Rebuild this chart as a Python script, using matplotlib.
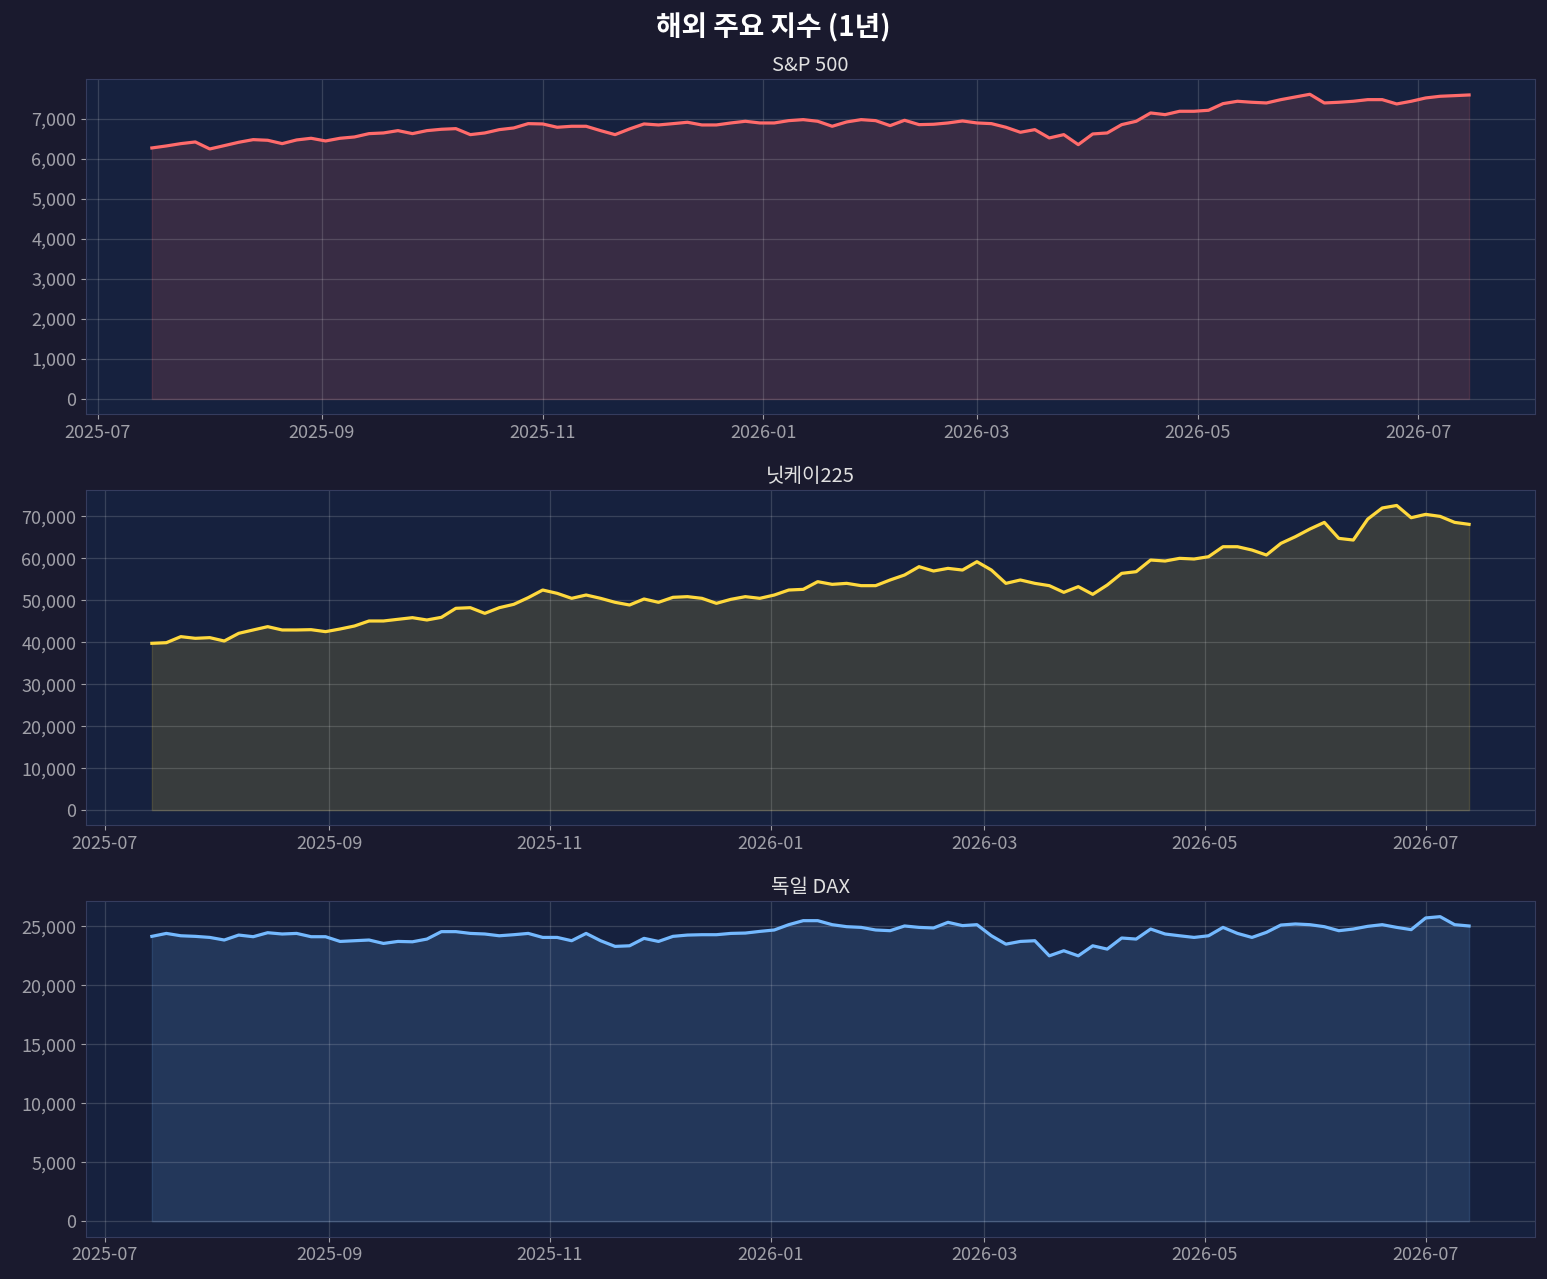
import pandas as pd
import matplotlib
matplotlib.use('Agg')
import matplotlib.pyplot as plt
import matplotlib.dates as mdates
from matplotlib.ticker import FuncFormatter

plt.rcParams['font.family'] = ['Noto Sans CJK KR', 'DejaVu Sans']

BG = '#1a1a2e'
AX_BG = '#16213e'

# values, one every 4 days
SP500 = [6275, 6325, 6383, 6425, 6250, 6333, 6417, 6483, 6467, 6383,
         6475, 6517, 6450, 6517, 6550, 6633, 6650, 6708, 6633, 6708,
         6742, 6758, 6608, 6650, 6733, 6775, 6883, 6875, 6792, 6817,
         6817, 6708, 6608, 6750, 6875, 6850, 6883, 6917, 6850, 6850,
         6900, 6942, 6900, 6900, 6958, 6983, 6942, 6817, 6925, 6983,
         6958, 6833, 6967, 6858, 6867, 6900, 6950, 6900, 6883, 6792,
         6667, 6733, 6525, 6608, 6358, 6625, 6650, 6858, 6942, 7150,
         7108, 7192, 7192, 7217, 7383, 7442, 7417, 7400, 7483, 7550,
         7617, 7400, 7417, 7442, 7483, 7483, 7375, 7442, 7525, 7567,
         7583, 7600]

NIKKEI = [39750, 39900, 41340, 40940, 41100, 40300, 42130, 42930, 43720, 42930,
          42930, 43000, 42530, 43160, 43880, 45070, 45070, 45470, 45860, 45310,
          45940, 48090, 48240, 46890, 48240, 49040, 50630, 52450, 51660, 50470,
          51260, 50470, 49520, 48880, 50310, 49520, 50710, 50870, 50470, 49280,
          50230, 50870, 50470, 51260, 52450, 52610, 54440, 53800, 54040, 53490,
          53490, 54840, 56030, 58010, 56980, 57610, 57210, 59200, 57210, 54040,
          54840, 54040, 53490, 51900, 53250, 51420, 53640, 56420, 56820, 59600,
          59360, 60000, 59840, 60390, 62770, 62770, 61980, 60790, 63570, 65160,
          66980, 68570, 64760, 64360, 69360, 72000, 72600, 69680, 70480, 70000,
          68570, 68100]

DAX = [24150, 24400, 24200, 24150, 24060, 23840, 24260, 24120, 24460, 24350,
       24400, 24120, 24120, 23720, 23780, 23840, 23550, 23720, 23690, 23920,
       24550, 24550, 24400, 24350, 24200, 24290, 24400, 24060, 24060, 23780,
       24400, 23780, 23300, 23350, 23980, 23720, 24150, 24260, 24290, 24290,
       24400, 24430, 24570, 24690, 25140, 25480, 25480, 25140, 24970, 24910,
       24690, 24630, 25030, 24910, 24860, 25340, 25060, 25140, 24200, 23490,
       23720, 23780, 22500, 22930, 22500, 23350, 23070, 24010, 23920, 24770,
       24350, 24200, 24060, 24200, 24910, 24400, 24060, 24490, 25110, 25200,
       25140, 24970, 24630, 24770, 25000, 25140, 24910, 24720, 25710, 25820,
       25140, 25030]

TITLES = ['S&P 500', '닛케이225', '독일 DAX']
STARTS = ['2025-07-16', '2025-07-14', '2025-07-14']
COLORS = ['#ff6b6b', '#ffd93d', '#74b9ff']
SERIES = [SP500, NIKKEI, DAX]

fig, axes = plt.subplots(3, 1, figsize=(15.47, 12.79), dpi=100)
fig.patch.set_facecolor(BG)
fig.subplots_adjust(left=0.0556, right=0.9922, top=0.9382, bottom=0.0332, hspace=0.227)

for ax, title, start, color, vals in zip(axes, TITLES, STARTS, COLORS, SERIES):
    dates = pd.date_range(start, periods=len(vals), freq='4D')
    ax.set_facecolor(AX_BG)
    ax.plot(dates, vals, color=color, linewidth=2.3)
    ax.fill_between(dates, vals, 0, color=color, alpha=0.15)
    ax.set_title(title, color='#e0e0e0', fontsize=14.5)
    ax.grid(True, color='#ffffff', alpha=0.15, linewidth=0.9)
    ax.xaxis.set_major_locator(mdates.MonthLocator(interval=2))
    ax.xaxis.set_major_formatter(mdates.DateFormatter('%Y-%m'))
    ax.yaxis.set_major_formatter(FuncFormatter(lambda v, p: f'{v:,.0f}'))
    ax.tick_params(colors='#a0a0a8', labelsize=13)
    for sp in ax.spines.values():
        sp.set_color('#353c5e')

fig.suptitle('해외 주요 지수 (1년)', color='white', fontsize=20, fontweight='bold', y=0.99)

fig.savefig('out.png', dpi=100, facecolor=BG)
